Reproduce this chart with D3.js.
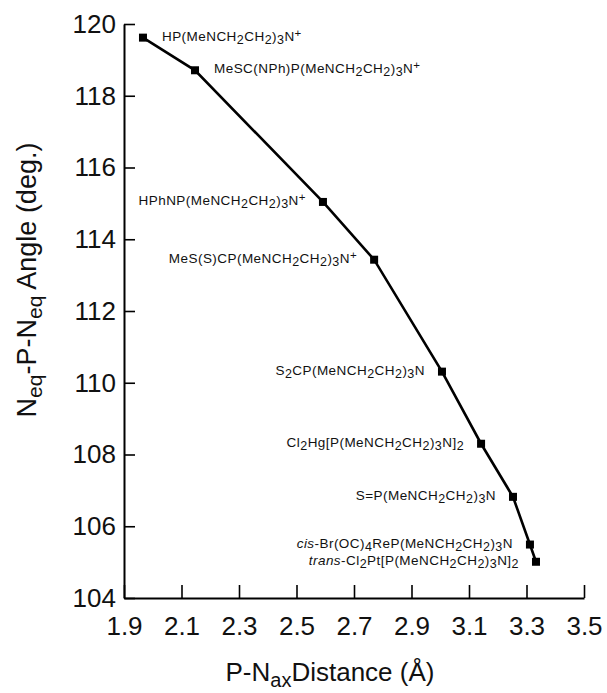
<!DOCTYPE html>
<html>
<head>
<meta charset="utf-8">
<script src="https://cdn.jsdelivr.net/npm/d3@7"></script>
<style>
  body { margin: 0; background: #fff; }
  svg { display: block; font-family: "Liberation Sans", Arial, sans-serif; }
</style>
</head>
<body>
<svg width="607" height="693"></svg>
<script>
// data
var distance = [1.966, 2.147, 2.592, 2.770, 3.006, 3.142, 3.253, 3.312, 3.333];
var angle    = [119.62, 118.71, 115.04, 113.43, 110.31, 108.30, 106.82, 105.49, 105.01];
// "_" = subscript, "^" = superscript, "~" = italic word
var compound = [
  "HP(MeNCH_2CH_2)_3N^+",
  "MeSC(NPh)P(MeNCH_2CH_2)_3N^+",
  "HPhNP(MeNCH_2CH_2)_3N^+",
  "MeS(S)CP(MeNCH_2CH_2)_3N^+",
  "S_2CP(MeNCH_2CH_2)_3N",
  "Cl_2Hg[P(MeNCH_2CH_2)_3N]_2",
  "S=P(MeNCH_2CH_2)_3N",
  "~cis~-Br(OC)_4ReP(MeNCH_2CH_2)_3N",
  "~trans~-Cl_2Pt[P(MeNCH_2CH_2)_3N]_2"
];
var labelSide = ["right", "right", "left", "left", "left", "left", "left", "left", "left"];
var xTicks = [1.9, 2.1, 2.3, 2.5, 2.7, 2.9, 3.1, 3.3, 3.5];
var yTicks = [104, 106, 108, 110, 112, 114, 116, 118, 120];

var svg = d3.select("svg");
var margin = {left: 124, top: 24, right: 23, bottom: 95};
var width = 607 - margin.left - margin.right,
    height = 693 - margin.top - margin.bottom;

var x = d3.scaleLinear().domain([1.9, 3.5]).range([0, width]);
var y = d3.scaleLinear().domain([104, 120]).range([height, 0]);

var g = svg.append("g").attr("transform", "translate(" + margin.left + "," + margin.top + ")");

// axes, ticks pointing inward
var xAxis = g.append("g")
    .attr("transform", "translate(0," + height + ")")
    .call(d3.axisBottom(x).tickValues(xTicks).tickFormat(d3.format(".1f")).tickSize(-13).tickSizeOuter(0));
var yAxis = g.append("g")
    .call(d3.axisLeft(y).tickValues(yTicks).tickFormat(d3.format("d")).tickSize(-11).tickSizeOuter(0));

[xAxis, yAxis].forEach(function(a) {
  a.select(".domain").attr("stroke", "#000").attr("stroke-width", 2);
  a.selectAll(".tick line").attr("stroke", "#000").attr("stroke-width", 1.6);
  a.selectAll(".tick text").attr("fill", "#111").style("font-size", "26px")
    .style("font-family", "'Liberation Sans', Arial, sans-serif");
});
xAxis.selectAll(".tick text").attr("y", 19).attr("dy", "0.71em");
yAxis.selectAll(".tick text").attr("x", -8);

var pts = distance.map(function(d, i) {
  return {x: d, y: angle[i], label: compound[i], side: labelSide[i]};
});

// connecting line
g.append("path")
  .datum(pts)
  .attr("fill", "none")
  .attr("stroke", "#000")
  .attr("stroke-width", 2.6)
  .attr("d", d3.line().x(function(d) { return x(d.x); }).y(function(d) { return y(d.y); }));

// square markers
var s = 8;
g.selectAll("rect.pt")
  .data(pts)
  .enter().append("rect")
  .attr("class", "pt")
  .attr("x", function(d) { return x(d.x) - s / 2; })
  .attr("y", function(d) { return y(d.y) - s / 2; })
  .attr("width", s)
  .attr("height", s)
  .attr("fill", "#000");

// chemical labels with sub/superscripts
function writeFormula(sel, str) {
  var re = /(~[^~]+~)|(_\d)|(\^\+)|([^_~^]+)/g, m, shift = 0;
  while ((m = re.exec(str)) !== null) {
    var t = sel.append("tspan");
    var newShift = 0, txt;
    if (m[1]) { txt = m[1].slice(1, -1); t.style("font-style", "italic"); }
    else if (m[2]) { txt = m[2].slice(1); newShift = 3; t.style("font-size", "12.5px"); }
    else if (m[3]) { txt = "+"; newShift = -4; t.style("font-size", "11.5px"); }
    else { txt = m[4]; }
    t.attr("dy", newShift - shift).text(txt);
    shift = newShift;
  }
}

g.selectAll("text.lbl")
  .data(pts)
  .enter().append("text")
  .attr("class", "lbl")
  .attr("x", function(d) { return x(d.x) + (d.side === "right" ? 19 : -17); })
  .attr("y", function(d) { return y(d.y) + 3; })
  .attr("text-anchor", function(d) { return d.side === "right" ? "start" : "end"; })
  .style("font-size", "13.5px")
  .style("letter-spacing", "0.45px")
  .attr("fill", "#111")
  .each(function(d) { writeFormula(d3.select(this), d.label); });

// axis titles
var yt = svg.append("text")
  .attr("transform", "translate(36,280) rotate(-90)")
  .attr("text-anchor", "middle")
  .style("font-size", "27px")
  .attr("fill", "#111");
yt.append("tspan").text("N");
yt.append("tspan").attr("dy", 6).style("font-size", "21px").text("eq");
yt.append("tspan").attr("dy", -6).text("-P-N");
yt.append("tspan").attr("dy", 6).style("font-size", "21px").text("eq");
yt.append("tspan").attr("dy", -6).text(" Angle (deg.)");

var xt = svg.append("text")
  .attr("x", 330)
  .attr("y", 681)
  .attr("text-anchor", "middle")
  .style("font-size", "26px")
  .attr("fill", "#111");
xt.append("tspan").text("P-N");
xt.append("tspan").attr("dy", 6).style("font-size", "20px").text("ax");
xt.append("tspan").attr("dy", -6).text("Distance (Å)");
</script>
</body>
</html>
